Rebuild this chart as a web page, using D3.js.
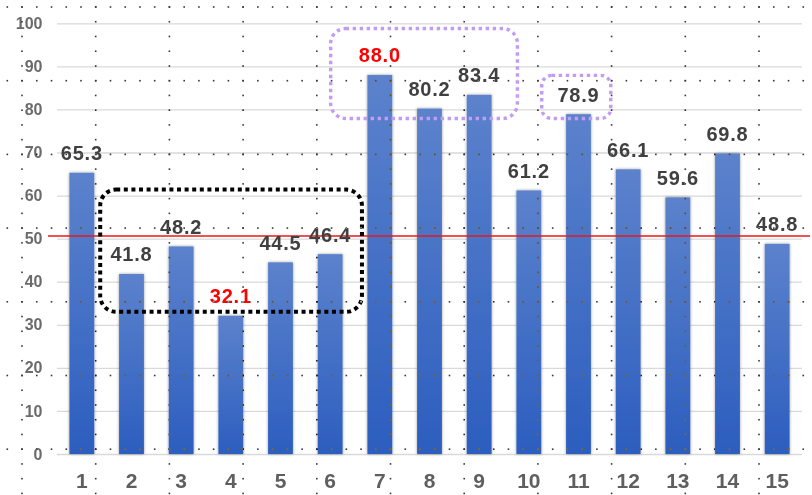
<!DOCTYPE html>
<html>
<head>
<meta charset="utf-8">
<script src="https://cdn.jsdelivr.net/npm/d3@7"></script>
<style>
  html, body { margin: 0; padding: 0; background: #fff; }
  svg { display: block; }
</style>
</head>
<body>
<svg id="chart" width="812" height="495"></svg>
<script>
// Data
const categories = ["1","2","3","4","5","6","7","8","9","10","11","12","13","14","15"];
const values = [65.3, 41.8, 48.2, 32.1, 44.5, 46.4, 88.0, 80.2, 83.4, 61.2, 78.9, 66.1, 59.6, 69.8, 48.8];
const yTicks = [0, 10, 20, 30, 40, 50, 60, 70, 80, 90, 100];
const referenceValue = 50.6;

// Highlight boxes: span in category units (bar i centred on i) and value range
const boxStart = [1.37, 6.01, 10.26];
const boxEnd   = [6.64, 9.77, 11.65];
const boxLow   = [33.0, 77.9, 77.9];
const boxHigh  = [61.4, 98.8, 87.9];
const boxKind  = ["black", "purple", "purple"];

(function draw() {
  const W = 812, H = 495;
  const plotLeft = 57, plotRight = 802, plotTop = 23.3, plotBottom = 454;

  const svg = d3.select("#chart");

  const x = d3.scaleBand().domain(categories).range([plotLeft, plotRight])
    .paddingInner(0.5).paddingOuter(0.25);
  const y = d3.scaleLinear().domain([0, 100]).range([plotBottom, plotTop]);
  // category index (1-based, centred on bar) -> pixel
  const xc = d3.scaleLinear().domain([1, categories.length])
    .range([x(categories[0]) + x.bandwidth() / 2,
            x(categories[categories.length - 1]) + x.bandwidth() / 2]);

  const defs = svg.append("defs");
  const grad = defs.append("linearGradient").attr("id", "barGrad")
    .attr("x1", 0).attr("y1", 0).attr("x2", 0).attr("y2", 1);
  grad.append("stop").attr("offset", "0%").attr("stop-color", "#5c82cc");
  grad.append("stop").attr("offset", "100%").attr("stop-color", "#2c5ebf");

  const shadow = defs.append("filter").attr("id", "barShadow")
    .attr("x", "-40%").attr("y", "-10%").attr("width", "180%").attr("height", "120%");
  shadow.append("feDropShadow").attr("dx", 0).attr("dy", 0)
    .attr("stdDeviation", 1.5).attr("flood-color", "#000").attr("flood-opacity", 0.4);

  // Y axis with gridlines
  const yAxis = svg.append("g")
    .attr("transform", `translate(${plotLeft},0)`)
    .call(d3.axisLeft(y).tickValues(yTicks).tickSize(-(plotRight - plotLeft)).tickPadding(14.5));
  yAxis.select(".domain").remove();
  yAxis.selectAll(".tick line").attr("stroke", "#d9d9d9").attr("stroke-width", 1.3);
  yAxis.selectAll(".tick text")
    .attr("font-family", "'Liberation Sans', Arial, sans-serif")
    .attr("font-weight", "bold")
    .attr("font-size", 16).attr("fill", "#6b6b6b");

  // Bars
  svg.append("g").selectAll("rect").data(values).join("rect")
    .attr("x", (d, i) => x(categories[i]))
    .attr("width", x.bandwidth())
    .attr("y", d => y(d))
    .attr("height", d => y(0) - y(d))
    .attr("fill", "url(#barGrad)")
    .attr("filter", "url(#barShadow)");

  // Reference line
  svg.append("line")
    .attr("x1", 48).attr("x2", 810)
    .attr("y1", y(referenceValue)).attr("y2", y(referenceValue))
    .attr("stroke", "#e8191a").attr("stroke-width", 1.5);

  // X axis
  const xAxis = svg.append("g")
    .attr("transform", `translate(0,${plotBottom})`)
    .call(d3.axisBottom(x).tickSize(0).tickPadding(19));
  xAxis.select(".domain").remove();
  xAxis.selectAll(".tick text")
    .attr("font-family", "'Liberation Sans', Arial, sans-serif")
    .attr("font-weight", "bold")
    .attr("font-size", 21).attr("fill", "#5f5f5f");

  // Value labels (max and min in red)
  const vMax = d3.max(values), vMin = d3.min(values);
  svg.append("g").selectAll("text").data(values).join("text")
    .attr("x", (d, i) => x(categories[i]) + x.bandwidth() / 2)
    .attr("y", d => y(d) - 12.5)
    .attr("text-anchor", "middle")
    .attr("font-family", "'Liberation Sans', Arial, sans-serif")
    .attr("font-weight", "bold")
    .attr("font-size", 20)
    .attr("letter-spacing", 0.8)
    .attr("fill", d => (d === vMax || d === vMin) ? "#ff0000" : "#404040")
    .text(d => d.toFixed(1));

  // Highlight boxes
  const boxStyle = {
    black:  { stroke: "#000", width: 4, dash: "4 3.6", r: 16 },
    purple: { stroke: "#c39bf2", width: 3.4, dash: "3.4 3.6", r: 15 }
  };
  boxStart.forEach((s, i) => {
    const st = boxStyle[boxKind[i]];
    const x0 = xc(s), x1 = xc(boxEnd[i]);
    const y0 = y(boxHigh[i]), y1 = y(boxLow[i]);
    const r = i === 2 ? 10 : st.r;
    svg.append("rect")
      .attr("x", x0).attr("y", y0)
      .attr("width", x1 - x0).attr("height", y1 - y0)
      .attr("rx", r).attr("ry", r)
      .attr("fill", "none")
      .attr("stroke", st.stroke).attr("stroke-width", st.width)
      .attr("stroke-dasharray", st.dash);
  });

  // Dotted background lattice, blended over everything
  const cell = 73.7, step = cell / 5;
  const dots = [];
  for (let gy = 7; gy < H; gy += cell) {
    for (let gx = 7.3; gx < W; gx += step) dots.push([gx, gy]);
  }
  for (let gx = 22; gx < W; gx += cell) {
    for (let gy = 7; gy < H; gy += step) dots.push([gx, gy]);
  }
  svg.append("g").style("mix-blend-mode", "difference")
    .selectAll("rect").data(dots).join("rect")
    .attr("x", d => d[0] - 0.8).attr("y", d => d[1] - 0.8)
    .attr("width", 1.6).attr("height", 1.6)
    .attr("fill", "#c8c8c8");
})();
</script>
</body>
</html>
